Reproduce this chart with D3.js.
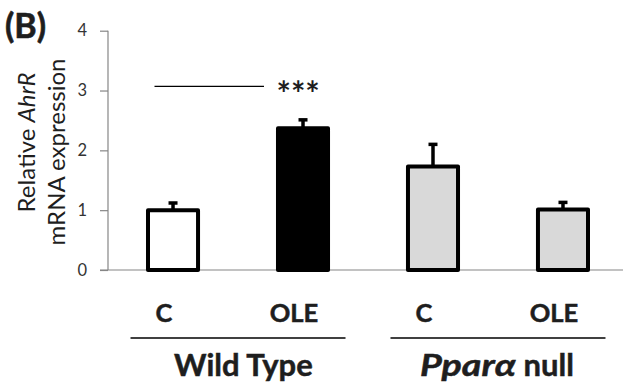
<!DOCTYPE html>
<html>
<head>
<meta charset="utf-8">
<script src="https://cdn.jsdelivr.net/npm/d3@7"></script>
<style>
  html, body { margin: 0; padding: 0; background: #fff; }
  svg { display: block; }
  text { font-family: Lato, "Open Sans", sans-serif; }
</style>
</head>
<body>
<script>
// ---- data ----
const categories = ["WT_C", "WT_OLE", "KO_C", "KO_OLE"];
const categoryLabels = ["C", "OLE", "C", "OLE"];
const values = [1.00, 2.37, 1.73, 1.01];
const errors = [0.12, 0.14, 0.37, 0.12];
const fills = ["#ffffff", "#000000", "#d9d9d9", "#d9d9d9"];
const groupNames = ["Wild Type", "Ppara null"];
const groupMembers = [["WT_C", "WT_OLE"], ["KO_C", "KO_OLE"]];
const yTicks = [0, 1, 2, 3, 4];
const sigFrom = "WT_C", sigTo = "WT_OLE", sigLevel = 3.07, sigLabel = "***";

// ---- layout ----
const W = 623, H = 388;
const ink = "#1e1e1e";
const svg = d3.select("body").append("svg").attr("width", W).attr("height", H);

const x = d3.scaleBand().domain(categories).range([108, 628])
  .paddingInner(0.615).paddingOuter(0.3077);
const y = d3.scaleLinear().domain([0, 4]).range([270, 30.7]);

const axisColor = "#868686";

// y axis
const yAxis = svg.append("g").attr("transform", "translate(108,0)")
  .call(d3.axisLeft(y).tickValues(yTicks).tickSize(8).tickPadding(13).tickFormat(d3.format("d")));
yAxis.select(".domain").attr("stroke", axisColor).attr("stroke-width", 1.2).attr("d", `M0,${y(4)}V${y(0)}`);
yAxis.selectAll(".tick line").attr("stroke", axisColor).attr("stroke-width", 1.2);
yAxis.selectAll(".tick text").attr("fill", "#333").style("font-size", "16.5px")
  .style("font-family", "Lato, sans-serif");

// x baseline
svg.append("line").attr("x1", 100).attr("x2", W).attr("y1", y(0)).attr("y2", y(0))
  .attr("stroke", axisColor).attr("stroke-width", 1.2);

// error bars
const bw = x.bandwidth();
const eg = svg.append("g");
categories.forEach((c, i) => {
  const cx = x(c) + bw / 2;
  eg.append("line").attr("x1", cx).attr("x2", cx)
    .attr("y1", y(values[i])).attr("y2", y(values[i] + errors[i]))
    .attr("stroke", "#000").attr("stroke-width", 3.5);
  eg.append("line").attr("x1", cx - 4.5).attr("x2", cx + 4.5)
    .attr("y1", y(values[i] + errors[i])).attr("y2", y(values[i] + errors[i]))
    .attr("stroke", "#000").attr("stroke-width", 3.5);
});

// bars
svg.append("g").selectAll("rect").data(categories).join("rect")
  .attr("x", d => x(d))
  .attr("width", bw)
  .attr("y", (d, i) => y(values[i]))
  .attr("height", (d, i) => y(0) - y(values[i]))
  .attr("fill", (d, i) => fills[i])
  .attr("stroke", "#000")
  .attr("stroke-width", 4)
  .attr("stroke-linejoin", "round");

// significance
svg.append("line").attr("x1", x(sigFrom) + 6.5).attr("x2", x(sigTo) - 14)
  .attr("y1", y(sigLevel)).attr("y2", y(sigLevel))
  .attr("stroke", "#000").attr("stroke-width", 1.3);
svg.append("text").attr("x", x(sigTo) - 1.5).attr("y", y(sigLevel) + 20)
  .attr("font-weight", 700).attr("font-size", 34).attr("fill", ink)
  .text(sigLabel);

// category labels
svg.append("g").selectAll("text").data(categories).join("text")
  .attr("x", d => x(d) + bw / 2 - 9)
  .attr("y", 321.5)
  .attr("text-anchor", "middle")
  .attr("font-weight", 700).attr("font-size", 25.5).attr("fill", ink)
  .attr("stroke", ink).attr("stroke-width", 0.5)
  .text((d, i) => categoryLabels[i]);

// group lines & labels
groupNames.forEach((name, gi) => {
  const m = groupMembers[gi];
  const c0 = x(m[0]) + bw / 2, c1 = x(m[1]) + bw / 2;
  const mid = (c0 + c1) / 2;
  svg.append("line").attr("x1", mid - 107.5).attr("x2", mid + 107.5)
    .attr("y1", 338).attr("y2", 338).attr("stroke", "#000").attr("stroke-width", 1.3);
  const t = svg.append("text").attr("y", 376)
    .attr("font-weight", 700).attr("font-size", 31).attr("fill", ink)
    .attr("stroke", ink).attr("stroke-width", 0.5);
  if (gi === 0) {
    t.attr("x", mid - 64).text(name);
  } else {
    t.attr("x", mid - 78);
    t.append("tspan").attr("font-style", "italic")
      .attr("textLength", 96).attr("lengthAdjust", "spacingAndGlyphs").text("Ppar\u03b1");
    t.append("tspan").text(" null");
  }
});

// panel label
svg.append("text").attr("x", 5).attr("y", 38)
  .attr("font-weight", 700).attr("font-size", 34).attr("fill", ink)
  .attr("stroke", ink).attr("stroke-width", 0.6).text("(B)");

// y axis label
const yl = svg.append("g");
const t1 = yl.append("text").attr("transform", "translate(35,142.5) rotate(-90)")
  .attr("text-anchor", "middle").attr("font-size", 24).attr("fill", ink);
t1.append("tspan").text("Relative ");
t1.append("tspan").attr("font-style", "italic").text("AhrR");
yl.append("text").attr("transform", "translate(65,152) rotate(-90)")
  .attr("text-anchor", "middle").attr("font-size", 24).attr("fill", ink)
  .text("mRNA expression");
</script>
</body>
</html>
